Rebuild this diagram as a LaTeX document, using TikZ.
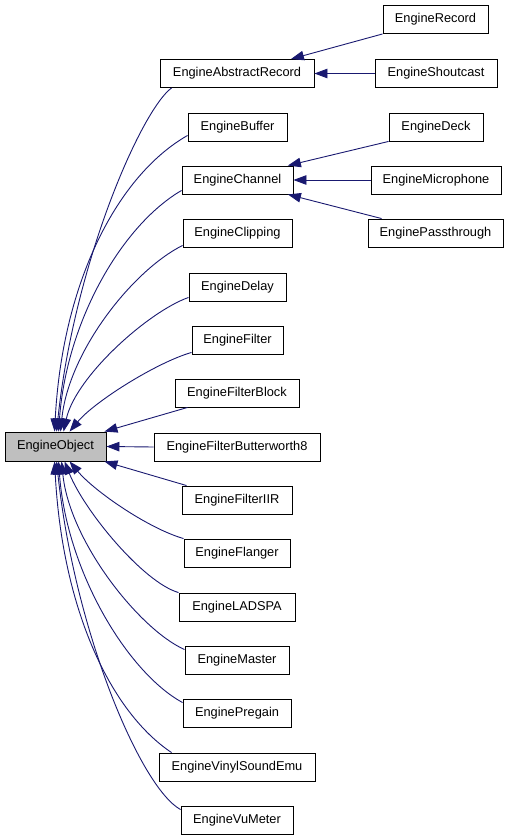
\documentclass[tikz,border=0pt]{standalone}
\usepackage{fontspec}
\setmainfont{Liberation Sans}
\usetikzlibrary{arrows.meta}
\definecolor{edgecol}{HTML}{191970}
\definecolor{objfill}{HTML}{BFBFBF}
\begin{document}
\begin{tikzpicture}[x=1pt,y=-1pt,
  box/.style={draw=black, line width=0.9pt, fill=white, inner sep=0pt,
    minimum height=28pt, font=\fontsize{12.8}{15}\selectfont},
  edge/.style={draw=edgecol, line width=0.9pt,
    -{Triangle[length=13pt,width=9.5pt]}}]
\useasboundingbox (0,0) rectangle (509,840);
% main class
\node[box, fill=objfill, minimum width=101pt, minimum height=29pt] (obj) at (55.5,446.5) {EngineObject};
% second column
\node[box, minimum width=154pt] (absrec) at (237,73.5) {EngineAbstractRecord};
\node[box, minimum width=99pt] (buffer) at (237.5,127) {EngineBuffer};
\node[box, minimum width=111pt] (channel) at (237.5,180) {EngineChannel};
\node[box, minimum width=109pt] (clipping) at (237.5,233) {EngineClipping};
\node[box, minimum width=97pt] (delay) at (237.5,287) {EngineDelay};
\node[box, minimum width=91pt] (filter) at (237.5,340) {EngineFilter};
\node[box, minimum width=124pt] (filterblock) at (237,393) {EngineFilterBlock};
\node[box, minimum width=166pt] (butterworth) at (237,447) {EngineFilterButterworth8};
\node[box, minimum width=110pt] (filteriir) at (237,500) {EngineFilterIIR};
\node[box, minimum width=106pt] (flanger) at (237,553) {EngineFlanger};
\node[box, minimum width=116pt] (ladspa) at (237,607) {EngineLADSPA};
\node[box, minimum width=104pt] (master) at (237,660) {EngineMaster};
\node[box, minimum width=108pt] (pregain) at (237,713) {EnginePregain};
\node[box, minimum width=156pt] (vinyl) at (237,767) {EngineVinylSoundEmu};
\node[box, minimum width=112pt] (vumeter) at (237,820) {EngineVuMeter};
% third column
\node[box, minimum width=105pt] (record) at (435.5,19.5) {EngineRecord};
\node[box, minimum width=122pt] (shoutcast) at (436,73.5) {EngineShoutcast};
\node[box, minimum width=94pt] (deck) at (436,127) {EngineDeck};
\node[box, minimum width=130pt] (microphone) at (436,180) {EngineMicrophone};
\node[box, minimum width=135pt] (passthrough) at (435.5,233) {EnginePassthrough};
% third column edges
\draw[edge] (record.south west) -- (absrec.15);
\draw[edge] (shoutcast.west) -- (absrec.east);
\draw[edge] (deck.south west) -- (channel.16);
\draw[edge] (microphone.west) -- (channel.east);
\draw[edge] (passthrough.165) -- (channel.-16);
% upper edges into EngineObject
\draw[edge] ([xshift=12pt]absrec.south west) .. controls +(-30,22) and +(18,-170) .. ([xshift=52pt]obj.north west);
\draw[edge] ([yshift=6pt]buffer.south west) .. controls +(-70,40) and +(8,-150) .. ([xshift=50pt]obj.north west);
\draw[edge] ([yshift=4pt]channel.south west) .. controls +(-60,35) and +(8,-110) .. ([xshift=54pt]obj.north west);
\draw[edge] ([yshift=2pt]clipping.south west) .. controls +(-50,25) and +(8,-80) .. ([xshift=56pt]obj.north west);
\draw[edge] ([yshift=4pt]delay.south west) .. controls +(-40,14) and +(12,-55) .. ([xshift=59pt]obj.north west);
\draw[edge] ([yshift=2pt]filter.south west) .. controls +(-35,10) and +(25,-30) .. ([xshift=65pt]obj.north west);
\draw[edge] ([xshift=13pt]filterblock.south west) -- ([xshift=-2pt]obj.north east);
\draw[edge] (butterworth.west) -- (obj.east);
\draw[edge] ([xshift=5pt]filteriir.north west) -- ([xshift=-2pt]obj.south east);
% lower edges into EngineObject
\draw[edge] (flanger.north west) .. controls +(-35,-10) and +(25,30) .. ([xshift=65pt]obj.south west);
\draw[edge] (ladspa.north west) .. controls +(-35,-10) and +(20,50) .. ([xshift=60pt]obj.south west);
\draw[edge] ([yshift=-4pt]master.north west) .. controls +(-45,-20) and +(8,80) .. ([xshift=57pt]obj.south west);
\draw[edge] ([yshift=-4pt]pregain.north west) .. controls +(-55,-30) and +(8,110) .. ([xshift=54pt]obj.south west);
\draw[edge] ([xshift=13pt]vinyl.north west) .. controls +(-60,-40) and +(8,150) .. ([xshift=50pt]obj.south west);
\draw[edge] ([yshift=-4pt]vumeter.north west) .. controls +(-40,-22) and +(18,170) .. ([xshift=52pt]obj.south west);
\end{tikzpicture}
\end{document}
